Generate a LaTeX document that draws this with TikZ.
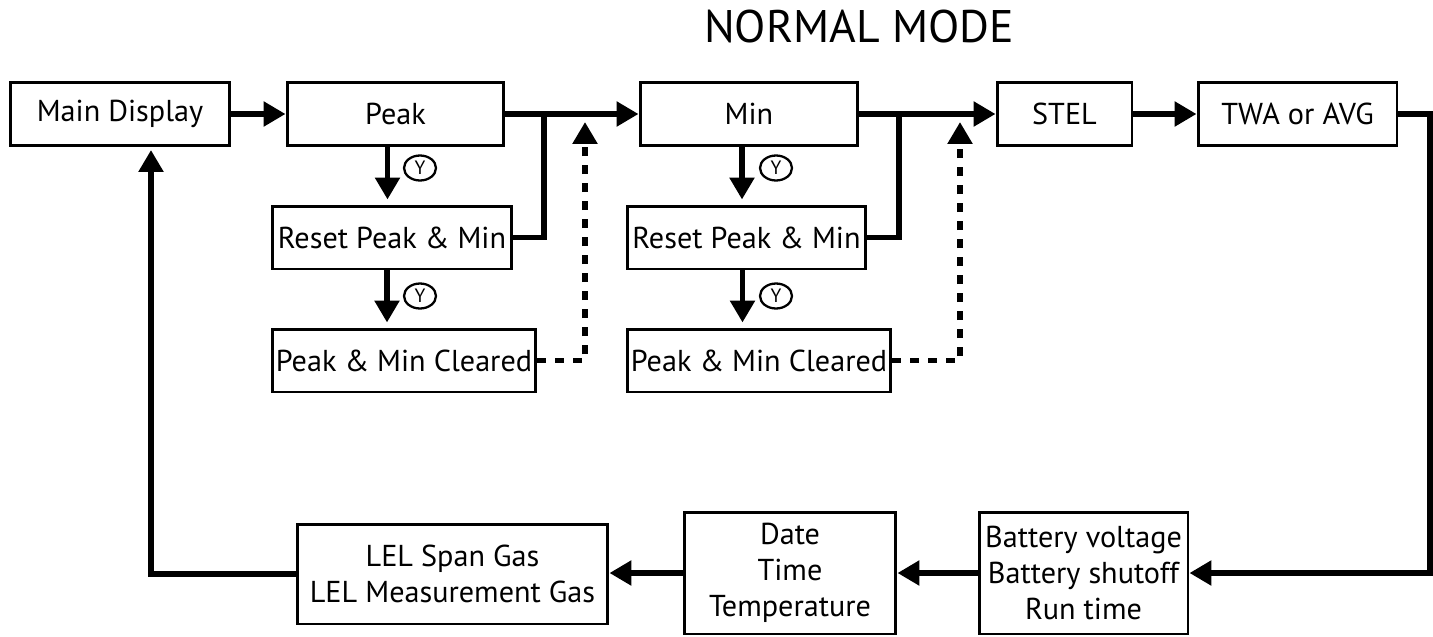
\documentclass[tikz,border=0pt]{standalone}
\usepackage{fontspec}
\setmainfont{PT Sans}
\usetikzlibrary{arrows.meta,shapes.geometric}

\begin{document}
\begin{tikzpicture}[x=0.02cm,y=-0.02cm,
  box/.style={draw,line width=1.7pt,minimum height=1.26cm,inner sep=0pt,align=center,font=\fontsize{17.2}{20.4}\selectfont},
  yes/.style={draw,ellipse,line width=1.3pt,minimum width=0.64cm,minimum height=0.5cm,inner sep=0pt,font=\fontsize{11}{11}\selectfont},
  link/.style={line width=3.4pt},
  flow/.style={link,-{Triangle[length=4.4mm,width=4.8mm]}},
  skip/.style={flow,dash pattern=on 0.18cm off 0.18cm}]
\useasboundingbox (0,0) rectangle (1433,636);

\node (title) at (859,27) {\fontsize{26}{30}\selectfont NORMAL MODE};

% top row
\node[box,minimum width=4.4cm] (main) at (120,114) {Main Display};
\node[box,minimum width=4.34cm] (peak) at (395.5,114) {Peak};
\node[box,minimum width=4.36cm] (min) at (749,114) {Min};
\node[box,minimum width=2.7cm] (stel) at (1064.5,114) {STEL};
\node[box,minimum width=3.98cm] (twa) at (1297.5,114) {TWA or AVG};

% reset branches
\node[box,minimum width=4.8cm] (resetA) at (392,237.5) {Reset Peak \& Min};
\node[box,minimum width=5.28cm] (clearA) at (404,360.5) {Peak \& Min Cleared};
\node[box,minimum width=4.78cm] (resetB) at (746.5,237.5) {Reset Peak \& Min};
\node[box,minimum width=5.28cm] (clearB) at (759,360.5) {Peak \& Min Cleared};
\node[yes] (yA1) at (420,168) {Y};
\node[yes] (yA2) at (420,296) {Y};
\node[yes] (yB1) at (776,168) {Y};
\node[yes] (yB2) at (776,296) {Y};

% bottom row
\node[box,minimum width=4.18cm,minimum height=2.44cm] (battery) at (1083.5,573) {Battery voltage\\Battery shutoff\\Run time};
\node[box,minimum width=4.24cm,minimum height=2.44cm] (date) at (790,573) {Date\\Time\\Temperature};
\node[box,minimum width=6.22cm,minimum height=2cm] (lel) at (452.5,574) {LEL Span Gas\\LEL Measurement Gas};

\coordinate (jA) at (544,114);
\coordinate (jB) at (899,114);
\coordinate (dA) at (585,122);
\coordinate (dB) at (960,122);
\coordinate (rim) at (1430,573);
\coordinate (ret) at (151,150);

\draw[flow] (main) -- (peak);
\draw[flow] (peak) -- (min);
\draw[flow] (min) -- (stel);
\draw[flow] (stel) -- (twa);
\draw[flow,shorten >=0.1cm] ([xshift=-0.16cm]peak.south) -- ([xshift=-0.16cm]peak.south |- resetA.north);
\draw[flow,shorten >=0.1cm] ([xshift=-0.1cm]resetA.south) -- ([xshift=-0.1cm]resetA.south |- clearA.north);
\draw[flow,shorten >=0.1cm] ([xshift=-0.14cm]min.south) -- ([xshift=-0.14cm]min.south |- resetB.north);
\draw[flow,shorten >=0.1cm] ([xshift=-0.08cm]resetB.south) -- ([xshift=-0.08cm]resetB.south |- clearB.north);
\draw[link] (resetA.east) -| (jA);
\draw[link] (resetB.east) -| (jB);
\draw[skip] (clearA.east) -| (dA);
\draw[skip] (clearB.east) -| (dB);
\draw[flow] (twa.east) -| (rim) -- (battery.east);
\draw[flow] (battery) -- (date);
\draw[flow] (date.west) -- (date.west -| lel.east);
\draw[flow] (lel.west) -| (ret);
\end{tikzpicture}
\end{document}
